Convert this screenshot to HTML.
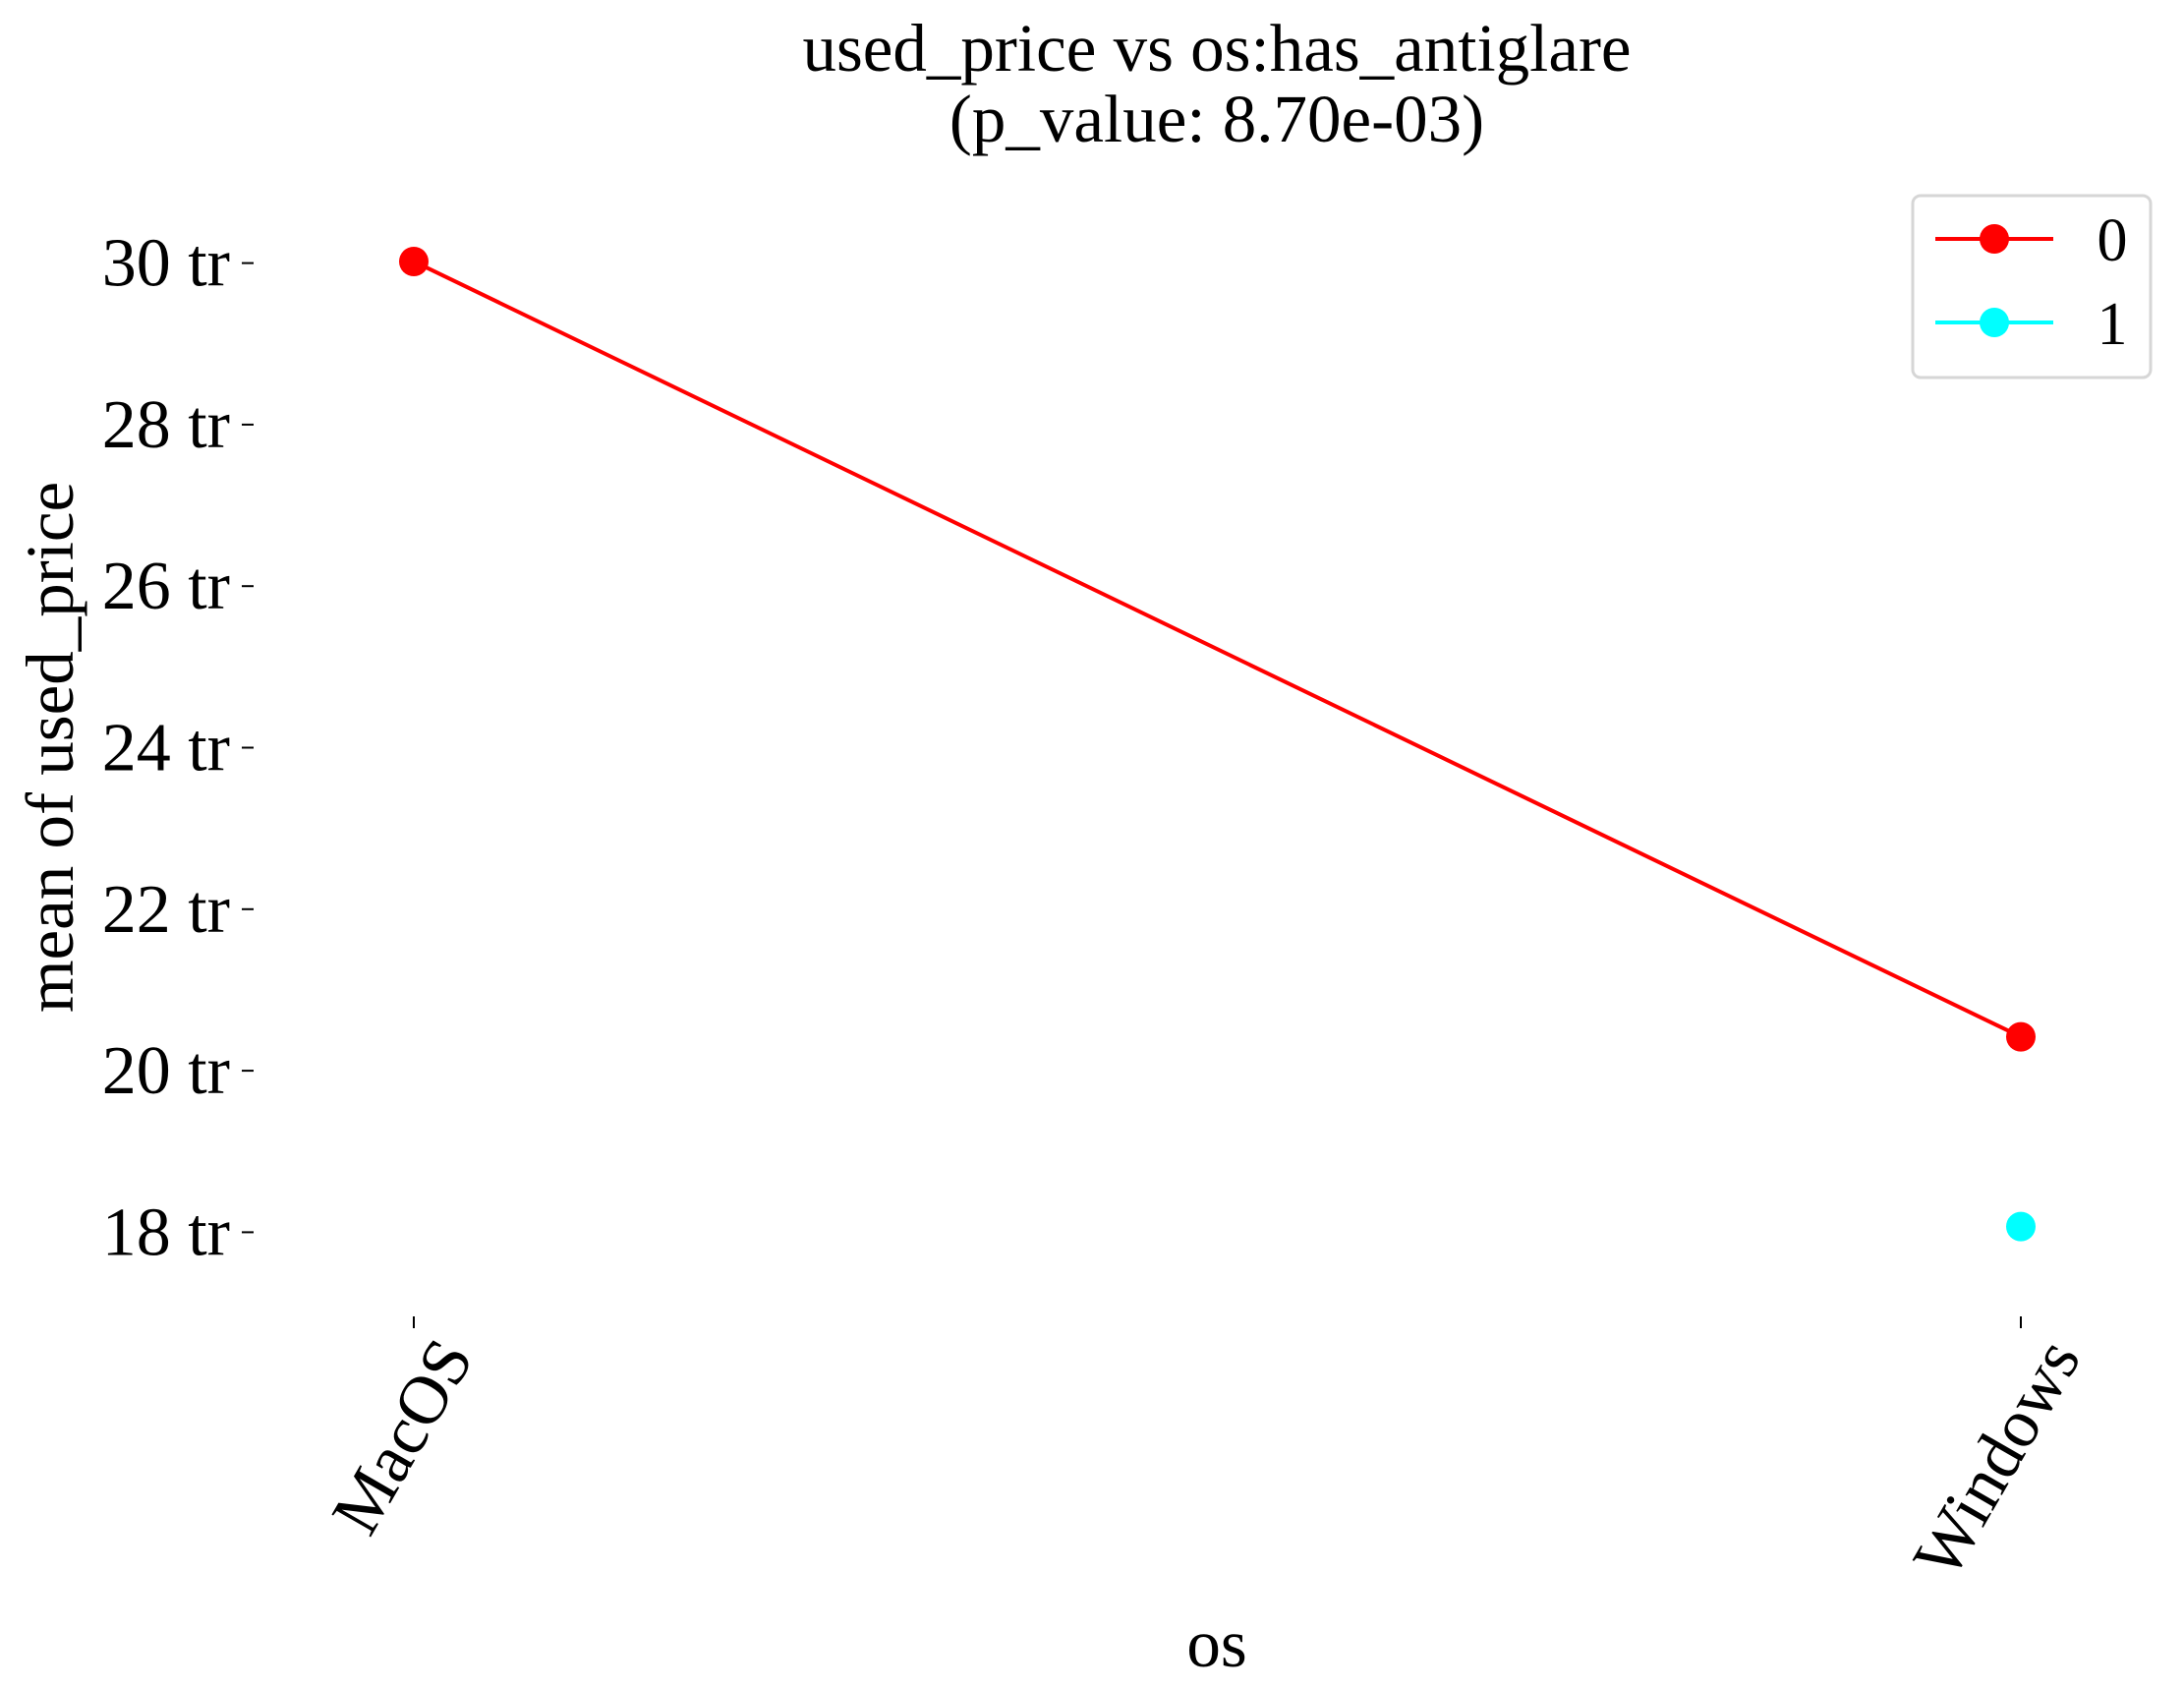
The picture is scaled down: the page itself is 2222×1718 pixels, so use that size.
<!DOCTYPE html>
<html><head><meta charset="utf-8"><style>
body{margin:0;background:#fff;}
svg{display:block;font-family:"Liberation Serif",serif;}
</style></head><body>
<svg id="chart" width="2222" height="1718" viewBox="0 0 2222 1718" xmlns="http://www.w3.org/2000/svg">
<text x="1238" y="72" font-size="69" text-anchor="middle">used_price vs os:has_antiglare</text>
<text x="1238" y="144" font-size="69" text-anchor="middle">(p_value: 8.70e-03)</text>
<text transform="translate(74,760) rotate(-90)" font-size="69" text-anchor="middle">mean of used_price</text>
<text x="1238" y="1695" font-size="69" text-anchor="middle">os</text>
<g id="yaxis"></g>
<g id="xaxis"></g>
<g id="series"></g>
<g>
<rect x="1946" y="199" width="242" height="185" rx="8" fill="#fff" stroke="#d6d6d6" stroke-width="3"/>
<g>
<line x1="1969" y1="243" x2="2089" y2="243" stroke="#ff0000" stroke-width="4"/>
<circle cx="2029" cy="243" r="15" fill="#ff0000"/>
<text x="2149" y="265" font-size="62" text-anchor="middle">0</text></g>
<g>
<line x1="1969" y1="328" x2="2089" y2="328" stroke="#00ffff" stroke-width="4"/>
<circle cx="2029" cy="328" r="15" fill="#00ffff"/>
<text x="2149" y="350" font-size="62" text-anchor="middle">1</text></g>
</g>
</svg>
<script>
const categories = ["MacOS", "Windows"];
const series0 = [30.02, 20.42];
const series1 = [null, 18.07];
const yTicks = [18, 20, 22, 24, 26, 28, 30];
const yTickLabels = ["18 tr", "20 tr", "22 tr", "24 tr", "26 tr", "28 tr", "30 tr"];

const NS = "http://www.w3.org/2000/svg";
function y(v){ return 267.6 + (30 - v) * 82.15; }
function x(i){ return 421 + i * (2056 - 421) / (categories.length - 1); }
function mk(tag, attrs, parent){ const e = document.createElementNS(NS, tag); for (const k in attrs) e.setAttribute(k, attrs[k]); parent.appendChild(e); return e; }

const ya = document.getElementById('yaxis');
yTicks.forEach((t, i) => {
  const l = mk('line', {x1: 246, x2: 258, y1: y(t), y2: y(t), stroke: '#000', 'stroke-width': 2}, ya);
  
  
  const tx = mk('text', {x: 234, y: y(t) + 23, 'font-size': 70, 'text-anchor': 'end'}, ya);
  tx.textContent = yTickLabels[i];
  
  
});
const xa = document.getElementById('xaxis');
categories.forEach((c, i) => {
  const l = mk('line', {x1: x(i), x2: x(i), y1: 1339, y2: 1351, stroke: '#000', 'stroke-width': 2}, xa);
  
  
  const tx = mk('text', {transform: `translate(${x(i) + 62},${1380}) rotate(-60)`, 'font-size': 70, 'text-anchor': 'end'}, xa);
  tx.textContent = c;
  
  
});
const sg = document.getElementById('series');
function drawSeries(vals, color, name){
  const pts = [];
  vals.forEach((v, i) => { if (v !== null) pts.push([x(i), y(v)]); });
  if (pts.length > 1) {
    const pl = mk('polyline', {points: pts.map(p => p.join(',')).join(' '), fill: 'none', stroke: color, 'stroke-width': 4}, sg);
    
    
  }
  pts.forEach(p => {
    const c = mk('circle', {cx: p[0], cy: p[1], r: 15, fill: color}, sg);
    
    
  });
}
drawSeries(series0, '#ff0000', 'series-0');
drawSeries(series1, '#00ffff', 'series-1');
</script>
</body></html>
